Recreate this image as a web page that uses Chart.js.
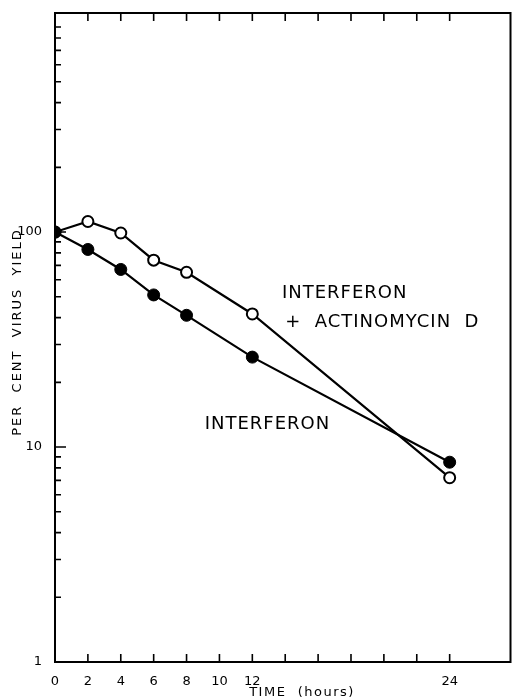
<!DOCTYPE html>
<html lang="en">
<head>
    <meta charset="UTF-8">
    <title>Per cent virus yield</title>
    <script src="https://cdn.jsdelivr.net/npm/chart.js"></script>
    <style>
        body {
            margin: 0;
            background: white;
        }
        #chart {
            display: block;
        }
    </style>
</head>
<body>
    <canvas id="chart" width="518" height="699"></canvas>

    <script>
        // values
        const hours = [0, 2, 4, 6, 8, 12, 24];
        const interferon = [100, 83, 67, 51, 41, 26.2, 8.5];
        const interferonActD = [100, 112, 99, 74, 65, 41.6, 7.2];

        const xTicks = [0, 2, 4, 6, 8, 10, 12, 14, 16, 18, 20, 22, 24];
        const xLabels = [0, 2, 4, 6, 8, 10, 12, 24];
        const yLabels = [1, 10, 100];

        const FONT = '"DejaVu Sans", sans-serif';

        function toPoints(ys) {
            return hours.map((h, i) => ({ x: h, y: ys[i] }));
        }

        // frame, inward ticks and the hand lettering
        const paperPlugin = {
            id: 'paper',
            beforeDatasetsDraw(chart) {
                const ctx = chart.ctx;
                const a = chart.chartArea;
                const xs = chart.scales.x;
                const ys = chart.scales.y;
                ctx.save();
                ctx.strokeStyle = '#000';
                ctx.lineWidth = 2;
                ctx.strokeRect(a.left, a.top, a.right - a.left, a.bottom - a.top);

                ctx.lineWidth = 1.6;
                ctx.beginPath();
                xs.ticks.forEach(t => {
                    if (t.value === 0) return;
                    const px = xs.getPixelForValue(t.value);
                    ctx.moveTo(px, a.bottom);
                    ctx.lineTo(px, a.bottom - 8);
                    ctx.moveTo(px, a.top);
                    ctx.lineTo(px, a.top + 8);
                });
                ys.ticks.forEach(t => {
                    if (t.value === 1 || t.value >= 1000) return;
                    const py = ys.getPixelForValue(t.value);
                    const len = yLabels.includes(t.value) ? 11 : 6;
                    ctx.moveTo(a.left, py);
                    ctx.lineTo(a.left + len, py);
                });
                ctx.stroke();
                ctx.restore();
            },
            afterDraw(chart) {
                const ctx = chart.ctx;
                const xs = chart.scales.x;
                const ys = chart.scales.y;
                ctx.save();
                ctx.fillStyle = '#000';

                // axis titles
                ctx.font = '13px ' + FONT;
                ctx.letterSpacing = '1.5px';
                ctx.textAlign = 'center';
                ctx.textBaseline = 'middle';
                ctx.fillText('TIME  (hours)', 302, 693);

                ctx.save();
                ctx.translate(18, 332);
                ctx.rotate(-Math.PI / 2);
                ctx.letterSpacing = '2px';
                ctx.fillText('PER  CENT  VIRUS  YIELD', 0, 0);
                ctx.restore();

                // curve labels, placed in data units
                ctx.font = '18px ' + FONT;
                ctx.letterSpacing = '1px';
                ctx.textAlign = 'left';
                ctx.fillText('INTERFERON', xs.getPixelForValue(13.8), ys.getPixelForValue(52));
                ctx.fillText('+  ACTINOMYCIN  D', xs.getPixelForValue(14.0), ys.getPixelForValue(38));
                ctx.fillText('INTERFERON', xs.getPixelForValue(9.1), ys.getPixelForValue(12.8));
                ctx.restore();
            }
        };

        new Chart(document.getElementById('chart'), {
            type: 'line',
            data: {
                datasets: [
                    {
                        label: 'Interferon',
                        data: toPoints(interferon),
                        borderColor: '#000',
                        borderWidth: 2.2,
                        pointRadius: 6,
                        pointBackgroundColor: '#000',
                        pointBorderColor: '#000',
                        pointBorderWidth: 1,
                        tension: 0
                    },
                    {
                        label: 'Interferon + Actinomycin D',
                        data: toPoints(interferonActD),
                        borderColor: '#000',
                        borderWidth: 2.2,
                        pointRadius: 5.5,
                        pointBackgroundColor: '#fff',
                        pointBorderColor: '#000',
                        pointBorderWidth: 2,
                        tension: 0
                    }
                ]
            },
            options: {
                responsive: false,
                animation: false,
                layout: { padding: { top: 13, right: 5 } },
                plugins: {
                    legend: { display: false },
                    tooltip: { enabled: false }
                },
                scales: {
                    x: {
                        type: 'linear',
                        min: 0,
                        max: 27.7,
                        afterBuildTicks: s => { s.ticks = xTicks.map(v => ({ value: v })); },
                        afterFit: s => { s.height = 37; },
                        grid: { display: false },
                        border: { display: false },
                        ticks: {
                            color: '#000',
                            padding: 4,
                            maxRotation: 0,
                            autoSkip: false,
                            font: { family: FONT, size: 13 },
                            callback: v => xLabels.includes(v) ? String(v) : ''
                        }
                    },
                    y: {
                        type: 'logarithmic',
                        min: 1,
                        max: 1045,
                        afterBuildTicks: s => {
                            const t = [];
                            [1, 10, 100].forEach(d => {
                                for (let k = 1; k <= 9; k++) t.push({ value: k * d });
                            });
                            t.push({ value: 1000 });
                            s.ticks = t;
                        },
                        afterFit: s => { s.width = 55; },
                        grid: { display: false },
                        border: { display: false },
                        ticks: {
                            color: '#000',
                            padding: 5,
                            autoSkip: false,
                            font: { family: FONT, size: 13 },
                            callback: v => yLabels.includes(v) ? String(v) : ''
                        }
                    }
                }
            },
            plugins: [paperPlugin]
        });
    </script>
</body>
</html>
